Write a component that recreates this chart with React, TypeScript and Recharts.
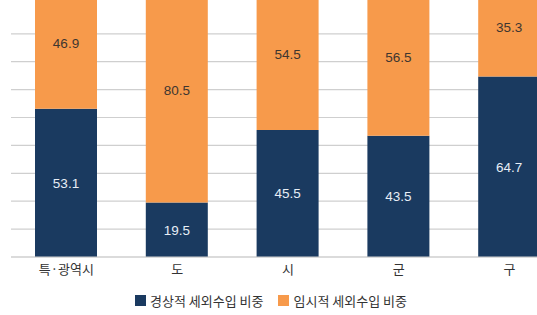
import React from "react";
import { BarChart, Bar, XAxis, YAxis, CartesianGrid, LabelList } from "recharts";

const categories = ["특·광역시", "도", "시", "군", "구"];
const regularShare = [53.1, 19.5, 45.5, 43.5, 64.7];
const temporaryShare = [46.9, 80.5, 54.5, 56.5, 35.3];
const yTicks = [0, 10, 20, 30, 40, 50, 60, 70, 80, 90, 100];
const seriesNames = ["경상적 세외수입 비중", "임시적 세외수입 비중"];

const NAVY = "#1a3a60";
const ORANGE = "#f79a4b";
const FONT = "'Noto Sans CJK KR', 'Noto Sans', sans-serif";
const NUM_FONT = "'Liberation Sans', Arial, sans-serif";

const data = categories.map((c, i) => ({
  name: c,
  regular: regularShare[i],
  temporary: temporaryShare[i],
}));

export default function App() {
  return (
    <div
      style={{
        position: "fixed",
        left: 0,
        top: 0,
        width: 537,
        height: 315,
        overflow: "hidden",
        background: "#fff",
        fontFamily: FONT,
      }}
    >
      <div style={{ position: "absolute", left: 0, top: -22 }}>
        <BarChart
          width={565}
          height={320}
          data={data}
          margin={{ top: 0, right: 0, bottom: 11, left: 11 }}
          barSize={62}
        >
          <CartesianGrid vertical={false} stroke="#cfcfcf" strokeWidth={1.2} />
          <YAxis hide domain={[0, 100]} ticks={yTicks} />
          <XAxis
            dataKey="name"
            tickLine={false}
            axisLine={{ stroke: "#cfcfcf", strokeWidth: 1.2 }}
            height={30}
            tick={{ fill: "#333", fontSize: 13, fontFamily: FONT }}
          />
          <Bar dataKey="regular" stackId="a" fill={NAVY} isAnimationActive={false}>
            <LabelList
              dataKey="regular"
              position="center"
              fill="#e8eef6"
              fontSize={13.5}
              fontFamily={NUM_FONT}
            />
          </Bar>
          <Bar dataKey="temporary" stackId="a" fill={ORANGE} isAnimationActive={false}>
            <LabelList
              dataKey="temporary"
              position="center"
              fill="#3e3630"
              fontSize={13.5}
              fontFamily={NUM_FONT}
            />
          </Bar>
        </BarChart>
      </div>
      <div
        style={{
          position: "absolute",
          left: 135,
          top: 291,
          display: "flex",
          alignItems: "center",
          fontSize: 13,
          color: "#333",
          whiteSpace: "nowrap",
        }}
      >
        <span style={{ display: "inline-block", width: 11, height: 11, background: NAVY, marginRight: 4 }} />
        <span style={{ marginRight: 15 }}>{seriesNames[0]}</span>
        <span style={{ display: "inline-block", width: 11, height: 11, background: ORANGE, marginRight: 4 }} />
        <span>{seriesNames[1]}</span>
      </div>
    </div>
  );
}
